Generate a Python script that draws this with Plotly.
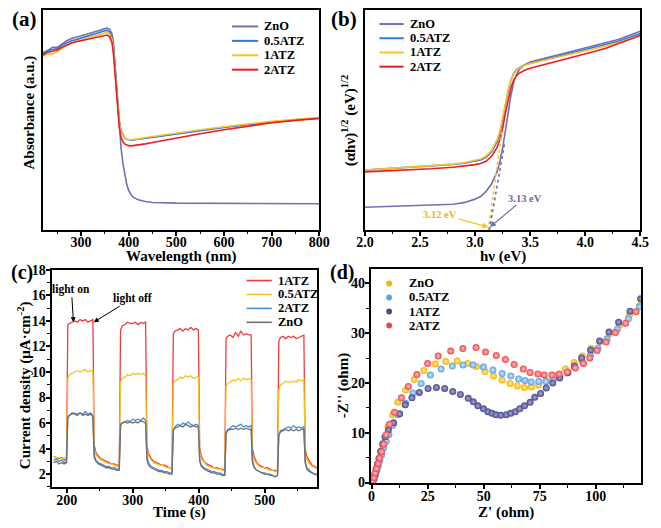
import plotly.graph_objects as go

FONT = "Liberation Serif"
W, H = 661, 528

# ---------------- (a) UV-vis absorbance ----------------
WL = [220, 230, 240, 250, 260, 270, 280, 290, 300, 310, 320, 330, 340, 350, 355, 360, 365, 368, 372, 376,
      380, 384, 388, 392, 396, 400, 405, 410, 420, 435, 450, 500, 550, 600, 650, 700, 750, 800]
ABS_ZNO = [.80, .815, .83, .83, .845, .86, .87, .875, .88, .888, .895, .90, .908, .915, .917, .912, .89, .85, .73, .58,
           .46, .37, .30, .245, .205, .18, .16, .148, .137, .129, .125, .122, .121, .121, .121, .12, .12, .119]
ABS_05ATZ = [.805, .815, .82, .825, .84, .85, .86, .865, .872, .88, .886, .892, .898, .905, .907, .90, .875, .83, .72, .60,
             .50, .45, .43, .418, .412, .409, .408, .409, .412, .417, .422, .438, .452, .466, .478, .49, .50, .508]
ABS_1ATZ = [.79, .80, .80, .81, .825, .84, .85, .858, .862, .87, .876, .882, .89, .895, .897, .89, .865, .82, .71, .59,
            .49, .445, .428, .418, .413, .41, .41, .411, .414, .42, .425, .441, .455, .469, .482, .494, .503, .511]
ABS_2ATZ = [.795, .808, .812, .818, .83, .84, .85, .855, .86, .865, .87, .875, .88, .885, .886, .878, .85, .80, .69, .57,
            .47, .42, .40, .39, .385, .383, .382, .383, .386, .391, .397, .418, .437, .455, .472, .487, .498, .507]
AB_NAMES = ["ZnO", "0.5ATZ", "1ATZ", "2ATZ"]
AB_COLORS = ["#7270b3", "#2e7dd7", "#f7c325", "#ec1c24"]

# ---------------- (b) Tauc plot ----------------
EV = [2.0, 2.2, 2.4, 2.6, 2.8, 2.9, 3.0, 3.05, 3.1, 3.15, 3.2, 3.225, 3.25, 3.275, 3.3, 3.325, 3.35, 3.375, 3.4, 3.45,
      3.5, 3.6, 3.7, 3.8, 3.9, 4.0, 4.1, 4.2, 4.3, 4.4, 4.5]
TAUC_ZNO = [.103, .106, .108, .111, .117, .124, .14, .152, .175, .21, .265, .31, .37, .45, .535, .61, .67, .705, .728, .75,
            .763, .777, .79, .802, .814, .826, .84, .853, .866, .884, .903]
TAUC_05ATZ = [.272, .278, .284, .29, .298, .303, .312, .318, .33, .355, .40, .44, .50, .57, .63, .68, .71, .728, .738, .75,
              .758, .77, .782, .794, .806, .818, .832, .845, .858, .875, .893]
TAUC_1ATZ = [.272, .278, .285, .291, .299, .305, .315, .322, .336, .362, .41, .45, .51, .575, .635, .68, .708, .725, .735, .748,
             .756, .768, .779, .79, .801, .812, .824, .837, .851, .866, .881]
TAUC_2ATZ = [.264, .268, .273, .278, .285, .29, .297, .302, .312, .335, .375, .41, .46, .53, .59, .645, .68, .70, .712, .726,
             .735, .748, .76, .772, .785, .798, .813, .828, .845, .865, .885]
FIT_ZNO_X = [3.13, 3.27]
FIT_ZNO_Y = [0.0, 0.40]
FIT_1ATZ_X = [3.12, 3.245]
FIT_1ATZ_Y = [0.0, 0.45]

# ---------------- (c) transient photocurrent ----------------
T = [180, 184, 188, 192, 196, 199.5,
     201.5, 204, 208, 212, 216, 220, 224, 228, 232, 236, 239.5,
     241.5, 244, 248, 252, 256, 260, 264, 268, 272, 276, 279.5,
     281.5, 284, 288, 292, 296, 300, 304, 308, 312, 316, 319.5,
     321.5, 324, 328, 332, 336, 340, 344, 348, 352, 356, 359.5,
     361.5, 364, 368, 372, 376, 380, 384, 388, 392, 396, 399.5,
     401.5, 404, 408, 412, 416, 420, 424, 428, 432, 436, 439.5,
     441.5, 444, 448, 452, 456, 460, 464, 468, 472, 476, 479.5,
     481.5, 484, 488, 492, 496, 500, 504, 508, 512, 516, 519.5,
     521.5, 524, 528, 532, 536, 540, 544, 548, 552, 556, 559.5,
     561.5, 564, 568, 572, 576, 580]
J_1ATZ = [3.4, 3.3, 3.2, 3.3, 3.1, 3.2,
          13.7, 13.8, 13.9, 14.0, 13.9, 14.1, 14.0, 14.1, 13.9, 14.0, 14.1,
          4.3, 3.7, 3.4, 3.2, 3.1, 3.0, 2.9, 2.8, 2.8, 2.7, 2.7,
          13.3, 13.6, 13.7, 13.9, 13.8, 13.8, 13.9, 13.7, 13.9, 13.8, 13.9,
          4.2, 3.6, 3.2, 3.0, 2.9, 2.8, 2.7, 2.7, 2.6, 2.5, 2.4,
          13.0, 13.2, 13.3, 13.4, 13.2, 13.4, 13.3, 13.5, 13.3, 13.4, 13.3,
          4.1, 3.4, 3.0, 2.8, 2.7, 2.6, 2.5, 2.5, 2.4, 2.4, 2.3,
          12.6, 12.8, 12.9, 12.7, 13.1, 12.8, 13.2, 12.9, 13.0, 12.9, 12.9,
          4.0, 3.4, 2.9, 2.7, 2.6, 2.5, 2.5, 2.4, 2.3, 2.3, 2.2,
          12.4, 12.7, 12.8, 12.6, 12.8, 12.7, 12.8, 12.6, 12.7, 12.8, 12.9,
          4.0, 3.4, 3.0, 2.7, 2.6, 2.5]
J_05ATZ = [3.4, 3.3, 3.3, 3.2, 3.3, 3.2,
           9.5, 9.8, 9.9, 10.0, 10.1, 10.0, 10.1, 10.2, 10.0, 10.1, 10.1,
           4.0, 3.5, 3.3, 3.1, 3.0, 2.9, 2.8, 2.8, 2.7, 2.6, 2.6,
           9.2, 9.5, 9.6, 9.8, 9.7, 9.9, 9.8, 9.9, 9.8, 9.9, 9.7,
           3.9, 3.4, 3.1, 2.9, 2.8, 2.7, 2.7, 2.6, 2.5, 2.5, 2.4,
           9.1, 9.3, 9.4, 9.6, 9.5, 9.7, 9.6, 9.7, 9.5, 9.6, 9.6,
           3.7, 3.2, 2.9, 2.7, 2.6, 2.5, 2.5, 2.4, 2.4, 2.3, 2.3,
           8.9, 9.1, 9.2, 9.4, 9.3, 9.5, 9.3, 9.5, 9.4, 9.5, 9.4,
           3.6, 3.1, 2.8, 2.6, 2.5, 2.5, 2.4, 2.3, 2.3, 2.2, 2.2,
           8.6, 9.0, 9.1, 9.3, 9.2, 9.2, 9.3, 9.2, 9.4, 9.3, 9.4,
           3.7, 3.1, 2.8, 2.6, 2.5, 2.4]
J_2ATZ = [3.1, 3.2, 3.0, 3.1, 2.9, 3.0,
          6.4, 6.6, 6.7, 6.8, 6.7, 6.8, 6.7, 6.9, 6.7, 6.8, 6.6,
          3.5, 3.1, 2.9, 2.8, 2.7, 2.6, 2.6, 2.5, 2.5, 2.4, 2.4,
          5.8, 6.0, 6.1, 6.2, 6.1, 6.3, 6.2, 6.3, 6.2, 6.4, 6.2,
          3.3, 2.9, 2.6, 2.5, 2.4, 2.3, 2.3, 2.2, 2.2, 2.1, 2.1,
          5.5, 5.7, 5.9, 5.8, 6.0, 5.9, 6.1, 5.9, 5.8, 5.9, 5.8,
          3.2, 2.7, 2.5, 2.4, 2.3, 2.2, 2.2, 2.1, 2.1, 2.0, 1.9,
          5.3, 5.5, 5.6, 5.8, 5.7, 5.8, 5.9, 5.7, 5.8, 5.7, 5.8,
          3.1, 2.6, 2.3, 2.2, 2.1, 2.1, 2.0, 2.0, 1.9, 1.8, 1.9,
          5.1, 5.4, 5.5, 5.6, 5.7, 5.6, 5.8, 5.6, 5.7, 5.6, 5.7,
          3.0, 2.5, 2.3, 2.1, 2.0, 1.9]
J_ZNO = [2.9, 3.0, 2.8, 2.9, 2.8, 2.9,
         6.5, 6.6, 6.8, 6.7, 6.6, 6.8, 6.6, 6.7, 6.6, 6.7, 6.5,
         3.3, 3.0, 2.8, 2.7, 2.6, 2.5, 2.5, 2.4, 2.4, 2.3, 2.3,
         5.9, 6.0, 6.1, 6.0, 6.1, 6.0, 6.1, 6.0, 6.2, 6.1, 6.0,
         3.1, 2.7, 2.5, 2.4, 2.3, 2.2, 2.2, 2.1, 2.1, 2.0, 2.0,
         5.4, 5.6, 5.7, 5.8, 5.7, 5.9, 5.8, 5.7, 5.8, 5.7, 5.7,
         3.0, 2.6, 2.4, 2.3, 2.2, 2.1, 2.1, 2.0, 2.0, 1.9, 1.9,
         5.2, 5.4, 5.5, 5.5, 5.6, 5.5, 5.6, 5.5, 5.6, 5.5, 5.5,
         2.9, 2.5, 2.3, 2.2, 2.1, 2.0, 2.0, 1.9, 1.9, 1.8, 1.9,
         5.0, 5.3, 5.4, 5.5, 5.4, 5.5, 5.4, 5.5, 5.4, 5.5, 5.5,
         2.9, 2.4, 2.2, 2.1, 2.0, 2.0]
IT_NAMES = ["1ATZ", "0.5ATZ", "2ATZ", "ZnO"]
IT_COLORS = ["#f23b3b", "#f8c21c", "#4a90d9", "#707070"]

# ---------------- (d) Nyquist plot ----------------
ZRE_ZNO = [0.5, 1, 1.5, 2, 2.6, 3.3, 4.1, 5, 6, 7.3, 9.4, 11.7, 15.2, 19, 23.3, 28.4, 33.1, 38.2, 42.8, 46.8,
           50.6, 54.4, 58.2, 61.8, 65, 68.2, 71.3, 74.5, 78, 82, 86.5, 90.3, 94, 98, 102, 106, 110.5, 115, 119.5]
ZIM_ZNO = [0.2, 0.8, 1.6, 2.5, 3.5, 4.6, 6.0, 7.5, 9.1, 11.2, 13.6, 16.1, 18.6, 20.7, 22.5, 23.8, 24.3, 24.4, 23.9, 23.3,
           22.3, 21.4, 20.6, 19.9, 19.4, 19.1, 19.2, 19.6, 20.4, 21.4, 22.8, 24.1, 25.4, 26.9, 28.3, 29.8, 31.6, 33.6, 35.5]
ZRE_05ATZ = [0.6, 1.2, 1.8, 2.4, 3, 3.7, 4.5, 5.4, 6.5, 7.7, 9.5, 11.8, 15.2, 18.4, 22.1, 26.2, 31, 36, 40.8, 45.3,
             49.9, 54.1, 58.2, 62.1, 65.6, 68.4, 71.2, 74.6, 77.7, 81, 84, 87.3, 90.4, 93.8, 97.6, 101, 105, 109.6, 114.5, 119.5]
ZIM_05ATZ = [0.2, 0.8, 1.5, 2.4, 3.3, 4.4, 5.6, 7.0, 8.3, 9.6, 11.5, 13.6, 15.9, 18.0, 19.9, 21.6, 22.8, 23.4, 23.6, 23.6,
             23.2, 22.6, 21.9, 21.4, 20.8, 20.5, 20.2, 20.3, 20.3, 20.7, 21.2, 22.0, 23.2, 24.5, 25.6, 27.0, 28.8, 30.8, 32.9, 35.3]
ZRE_1ATZ = [0.5, 1, 1.5, 2, 2.6, 3.3, 4.1, 5, 6, 7.5, 9.8, 12.5, 15, 18, 21.3, 25.2, 28.9, 32.6, 36.2, 39.6,
            43.1, 45.4, 47.4, 49.9, 51.9, 53.7, 55.5, 57.6, 60.1, 62.1, 64.1, 66.1, 68.2, 70.7, 72.8, 75.4, 77.9, 80.8, 83.9, 87.6,
            90.5, 93.7, 97.7, 101.7, 105.9, 110.2, 115.3, 120]
ZIM_1ATZ = [0.2, 0.9, 1.7, 2.7, 3.7, 4.9, 6.3, 7.8, 9.2, 10.6, 12.0, 13.8, 15.6, 17.0, 18.1, 18.9, 19.1, 18.9, 18.3, 17.7,
            16.9, 16.2, 15.4, 14.8, 14.2, 13.9, 13.6, 13.5, 13.6, 13.9, 14.2, 14.8, 15.4, 16.1, 17.1, 17.9, 19.0, 20.0, 21.0, 22.1,
            23.4, 25.0, 26.6, 28.4, 30.2, 32.2, 34.4, 36.9]
ZRE_2ATZ = [0.5, 1, 1.6, 2.2, 2.9, 3.6, 4.5, 5.4, 6.5, 8, 10.2, 13.3, 16.4, 20.2, 25, 29.7, 35.3, 40.7, 46.6, 50.8,
            55.6, 59.7, 63.6, 67.7, 70.7, 74.2, 77, 80.5, 83.7, 87.3, 90.9, 94.5, 97.3, 100.6, 104.6, 108.8, 113.3, 118]
ZIM_2ATZ = [0.3, 1.0, 1.9, 2.8, 3.8, 4.9, 6.2, 7.7, 9.6, 11.7, 14.1, 17.0, 19.3, 21.7, 23.9, 25.4, 26.4, 26.9, 27.1, 26.2,
            25.5, 24.7, 23.7, 22.8, 22.1, 21.8, 21.6, 21.6, 21.8, 22.2, 23.0, 23.9, 25.0, 26.5, 28.2, 30.1, 32.0, 34.3]
EIS_NAMES = ["ZnO", "0.5ATZ", "1ATZ", "2ATZ"]
EIS_COLORS = ["#f7b500", "#5aa2e2", "#4b4a8c", "#f0454a"]
EIS_LIGHT = ["#ffe9a6", "#cfe6fb", "#a9a8d8", "#ffc2c4"]


def px(xp):
    return xp / W


def py(yp):
    return 1 - yp / H


fig = go.Figure()

for name, vals, col in zip(AB_NAMES, [ABS_ZNO, ABS_05ATZ, ABS_1ATZ, ABS_2ATZ], AB_COLORS):
    fig.add_trace(go.Scatter(x=WL, y=vals, mode="lines", name=name, showlegend=False,
                             line=dict(color=col, width=1.6), xaxis="x", yaxis="y"))

for name, vals, col in zip(AB_NAMES, [TAUC_ZNO, TAUC_05ATZ, TAUC_1ATZ, TAUC_2ATZ], AB_COLORS):
    fig.add_trace(go.Scatter(x=EV, y=vals, mode="lines", name=name, showlegend=False,
                             line=dict(color=col, width=1.6), xaxis="x2", yaxis="y2"))
fig.add_trace(go.Scatter(x=FIT_1ATZ_X, y=FIT_1ATZ_Y, mode="lines", showlegend=False,
                         line=dict(color=AB_COLORS[2], width=1.6, dash="dot"), xaxis="x2", yaxis="y2"))
fig.add_trace(go.Scatter(x=FIT_ZNO_X, y=FIT_ZNO_Y, mode="lines", showlegend=False,
                         line=dict(color=AB_COLORS[0], width=1.6, dash="dot"), xaxis="x2", yaxis="y2"))

for name, vals, col in zip(IT_NAMES, [J_1ATZ, J_05ATZ, J_2ATZ, J_ZNO], IT_COLORS):
    fig.add_trace(go.Scatter(x=T, y=vals, mode="lines", name=name, showlegend=False,
                             line=dict(color=col, width=1.3), xaxis="x3", yaxis="y3"))

for name, xr, yi, col, lc in zip(EIS_NAMES, [ZRE_ZNO, ZRE_05ATZ, ZRE_1ATZ, ZRE_2ATZ],
                                 [ZIM_ZNO, ZIM_05ATZ, ZIM_1ATZ, ZIM_2ATZ], EIS_COLORS, EIS_LIGHT):
    fig.add_trace(go.Scatter(x=xr, y=yi, mode="markers", name=name, showlegend=False,
                             marker=dict(color=col, size=7, line=dict(width=0),
                                         gradient=dict(type="radial", color=lc)),
                             xaxis="x4", yaxis="y4"))

TICKFONT = dict(family=FONT, size=14, color="black", weight="bold")


def axis(**kw):
    d = dict(showline=True, linecolor="black", linewidth=2, mirror=True, showgrid=False, zeroline=False,
             ticks="outside", ticklen=4, tickwidth=1.5, tickcolor="black", tickfont=TICKFONT)
    d.update(kw)
    return d


def minor(dt):
    return dict(dtick=dt, ticks="outside", ticklen=2.5, tickwidth=1.2, tickcolor="black")


fig.update_layout(
    width=W, height=H, margin=dict(l=0, r=0, t=0, b=0),
    paper_bgcolor="white", plot_bgcolor="white", showlegend=False,
    xaxis=axis(domain=[px(35), px(320)], range=[220, 800], tick0=0, dtick=100, minor=minor(50),
               ticklabelstandoff=-6, anchor="y"),
    yaxis=axis(domain=[py(229), py(3)], range=[0, 1], ticks="", showticklabels=False, anchor="x"),
    xaxis2=axis(domain=[px(367), px(651)], range=[2.0, 4.5], dtick=0.5, tick0=0, tickformat=".1f",
                minor=minor(0.25), ticklabelstandoff=-6, anchor="y2"),
    yaxis2=axis(domain=[py(229), py(3)], range=[0, 1], ticks="", showticklabels=False, anchor="x2"),
    xaxis3=axis(domain=[px(44), px(318)], range=[177, 580], tick0=0, dtick=100, minor=minor(50),
                ticklabelstandoff=-5, anchor="y3"),
    yaxis3=axis(domain=[py(493), py(270)], range=[1, 18], tick0=0, dtick=2, minor=minor(1),
                ticklabelstandoff=-3, anchor="x3"),
    xaxis4=axis(domain=[px(373), px(652)], range=[-0.4, 120.3], tick0=0, dtick=25, minor=minor(12.5),
                ticklabelstandoff=-5, anchor="y4"),
    yaxis4=axis(domain=[py(489), py(269)], range=[-0.1, 42.9], tick0=0, dtick=10, minor=minor(5),
                ticklabelstandoff=-3, anchor="x4"),
)

ann = []
shapes = []


def text(x, y, s, size=15, angle=0, color="black", xanchor="center"):
    ann.append(dict(x=px(x), y=py(y), xref="paper", yref="paper", text=s, showarrow=False,
                    textangle=angle, xanchor=xanchor, yanchor="middle",
                    font=dict(family=FONT, size=size, color=color, weight="bold")))


# panel labels
text(16, 12, "(a)", 21)
text(345, 12, "(b)", 21)
text(13, 273, "(c)", 20)
text(343, 273, "(d)", 20)

# axis titles
text(177, 256, "Wavelength (nm)")
text(21, 108, "Absorbance (a.u.)", angle=-90)
text(509, 256, "hν (eV)")
text(351, 117, "(αhν)<sup>1/2</sup> (eV)<sup>1/2</sup>", angle=-90)
text(176, 519, "Time (s)")
text(16, 389, "Current density (μA·cm<sup>-2</sup>)", angle=-90)
text(512, 519, "Z' (ohm)")
text(345, 389, "-Z'' (ohm)", angle=-90)

# legends (drawn by hand to match spacing)
for i, (name, col) in enumerate(zip(AB_NAMES, AB_COLORS)):
    yy = 20 + 14.8 * i
    shapes.append(dict(type="line", xref="paper", yref="paper", x0=px(230), x1=px(257), y0=py(yy), y1=py(yy),
                       line=dict(color=col, width=2)))
    text(261, yy, name, 12.5, xanchor="left")
for i, (name, col) in enumerate(zip(AB_NAMES, AB_COLORS)):
    yy = 17.5 + 14.6 * i
    shapes.append(dict(type="line", xref="paper", yref="paper", x0=px(382), x1=px(407), y0=py(yy), y1=py(yy),
                       line=dict(color=col, width=2)))
    text(411, yy, name, 12.5, xanchor="left")
for i, (name, col) in enumerate(zip(IT_NAMES, IT_COLORS)):
    yy = 281 + 14.3 * i
    shapes.append(dict(type="line", xref="paper", yref="paper", x0=px(245), x1=px(271), y0=py(yy), y1=py(yy),
                       line=dict(color=col, width=1.6)))
    text(275, yy, name, 12.5, xanchor="left")
for i, (name, col) in enumerate(zip(EIS_NAMES, EIS_COLORS)):
    yy = 284 + 14.4 * i
    shapes.append(dict(type="circle", xref="paper", yref="paper", x0=px(389), x1=px(395), y0=py(yy + 3),
                       y1=py(yy - 3), fillcolor=col, line=dict(width=0)))
    text(410, yy, name, 12.5, xanchor="left")

# band-gap arrows (panel b)
ann.append(dict(x=3.12, y=0.013, xref="x2", yref="y2", ax=-48, ay=-13, text="3.12 eV", showarrow=True,
                arrowhead=2, arrowsize=1, arrowwidth=1.2, arrowcolor=AB_COLORS[2],
                font=dict(family=FONT, size=10.5, color="#f2b600", weight="bold")))
ann.append(dict(x=3.135, y=0.013, xref="x2", yref="y2", ax=35, ay=-29, text="3.13 eV", showarrow=True,
                arrowhead=2, arrowsize=1, arrowwidth=1.2, arrowcolor=AB_COLORS[0],
                font=dict(family=FONT, size=10.5, color="#6a68a8", weight="bold")))

# light on / off arrows (panel c)
ann.append(dict(x=210, y=13.9, xref="x3", yref="y3", ax=-2, ay=-33, text="light on", showarrow=True,
                arrowhead=2, arrowsize=1, arrowwidth=1, arrowcolor="black",
                font=dict(family=FONT, size=11.5, color="black", weight="bold")))
ann.append(dict(x=240.7, y=13.9, xref="x3", yref="y3", ax=39, ay=-24, text="light off", showarrow=True,
                arrowhead=2, arrowsize=1, arrowwidth=1, arrowcolor="black",
                font=dict(family=FONT, size=11.5, color="black", weight="bold")))

fig.update_layout(annotations=ann, shapes=shapes)

PAGE_CSS = ("var s=document.createElement('style');"
            "s.innerHTML='html,body{margin:0;padding:0;overflow:hidden;width:661px;height:528px;}';"
            "document.head.appendChild(s);")
fig.write_html("out.html", config={"displayModeBar": False}, post_script=PAGE_CSS)
